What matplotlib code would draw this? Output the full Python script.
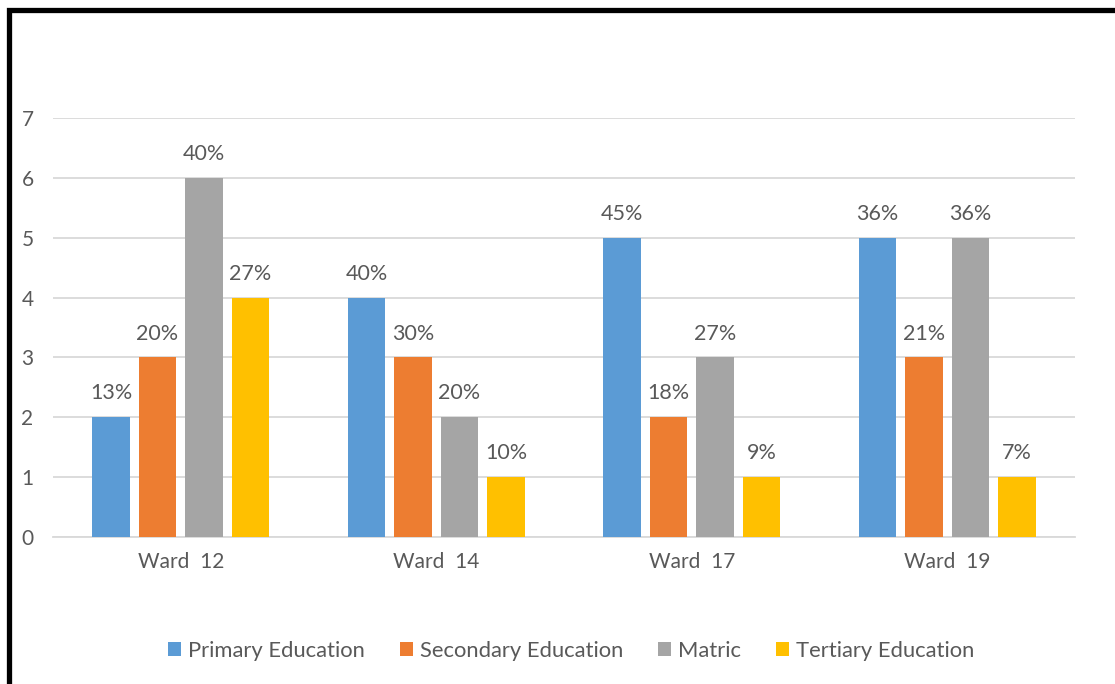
import matplotlib.pyplot as plt
import numpy as np
from matplotlib.lines import Line2D

wards = ['Ward  12', 'Ward  14', 'Ward  17', 'Ward  19']
series = ['Primary Education', 'Secondary Education', 'Matric', 'Tertiary Education']
primary = [2, 4, 5, 5]
secondary = [3, 3, 2, 3]
matric = [6, 2, 3, 5]
tertiary = [4, 1, 1, 1]
primary_pct = ['13%', '40%', '45%', '36%']
secondary_pct = ['20%', '30%', '18%', '21%']
matric_pct = ['40%', '20%', '27%', '36%']
tertiary_pct = ['27%', '10%', '9%', '7%']
colors = ['#5B9BD5', '#ED7D31', '#A5A5A5', '#FFC000']

plt.rcParams['font.family'] = ['Lato', 'DejaVu Sans']
txt = '#595959'

W, H = 1115, 684
fig = plt.figure(figsize=(W / 100, H / 100), dpi=100)
ax = fig.add_axes([53 / W, (H - 537) / H, (1075 - 53) / W, (537 - 118) / H])

x = np.arange(len(wards))
width = 0.145
step = 0.182
values = [primary, secondary, matric, tertiary]
labels = [primary_pct, secondary_pct, matric_pct, tertiary_pct]
for i, (vals, pcts) in enumerate(zip(values, labels)):
    pos = x + (i - 1.5) * step
    bars = ax.bar(pos, vals, width, color=colors[i], label=series[i], zorder=3)
    ax.bar_label(bars, labels=pcts, padding=10, fontsize=15.5, color=txt)

ax.set_xlim(-0.5, 3.5)
ax.set_ylim(0, 7)
ax.set_yticks(range(8))
ax.set_xticks(x)
ax.set_xticklabels(wards)
ax.tick_params(length=0, labelsize=15, colors=txt)
ax.tick_params(axis='y', pad=14)
ax.tick_params(axis='x', pad=11)
ax.grid(axis='y', color='#d9d9d9', linewidth=1.3, zorder=0)
for s in ['left', 'right', 'top']:
    ax.spines[s].set_visible(False)
ax.spines['bottom'].set_color('#d9d9d9')
ax.spines['bottom'].set_linewidth(1.3)

fig.legend(loc='center', bbox_to_anchor=(571 / W, 1 - 651 / H), ncol=4,
           frameon=False, fontsize=15.8, labelcolor=txt,
           handlelength=0.6, handleheight=0.6, handletextpad=0.3,
           columnspacing=1.6)

# frame edge on the left and top
fig.add_artist(Line2D([9 / W, 9 / W, 1.0], [0, 1 - 9.5 / H, 1 - 9.5 / H],
                      transform=fig.transFigure, color='black', linewidth=3.8,
                      solid_joinstyle='miter'))

fig.savefig('out.png', dpi=100, facecolor='white')
